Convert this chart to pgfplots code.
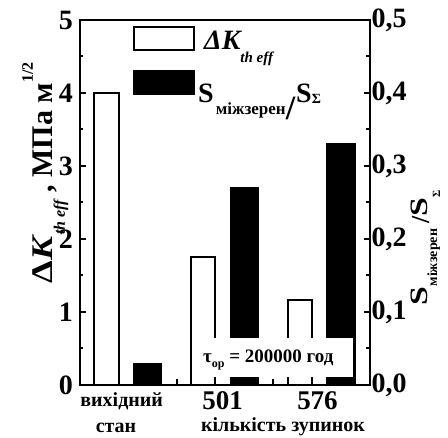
\documentclass[border=0pt]{standalone}
\usepackage{graphicx}
\usepackage{pgfplots}
\pgfplotsset{compat=1.18}
\usepackage{fontspec}
\setmainfont{Liberation Serif}
\newcommand{\fs}[1]{\fontsize{#1}{#1}\selectfont}
\begin{document}
\begin{tikzpicture}[x=1pt,y=1pt,font=\bfseries]
\useasboundingbox (-80,-53) rectangle (368,385);
\begin{axis}[
  at={(0,0)}, anchor=south west,
  scale only axis, width=290pt, height=365pt,
  xmin=-0.5, xmax=2.5, ymin=0, ymax=5,
  axis line style={line width=2.5pt},
  ytick={0,1,2,3,4,5}, minor ytick={0.5,1.5,2.5,3.5,4.5},
  ytick pos=left,
  xtick={0.5,1.5}, xticklabels={},
  xtick pos=bottom,
  tick align=inside,
  major tick length=6pt, minor tick length=3.5pt,
  every tick/.style={line width=2pt, black},
  /pgf/number format/assume math mode=true,
  yticklabel style={font=\fs{28}\bfseries, inner xsep=7pt},
]
\addplot[ybar, bar width=0.25, bar shift=-0.225, fill=white, draw=black, line width=2pt]
  coordinates {(0,4.0) (1,1.75) (2,1.16)};
\end{axis}
\begin{axis}[
  at={(0,0)}, anchor=south west,
  scale only axis, width=290pt, height=365pt,
  xmin=-0.5, xmax=2.5, ymin=0, ymax=0.5,
  axis x line=none, axis y line*=right,
  axis line style={line width=2.5pt},
  ytick={0,0.1,0.2,0.3,0.4,0.5},
  minor ytick={0.05,0.15,0.25,0.35,0.45},
  tick align=inside,
  major tick length=6pt, minor tick length=3.5pt,
  every tick/.style={line width=2pt, black},
  /pgf/number format/assume math mode=true,
  /pgf/number format/.cd, fixed, fixed zerofill, precision=1, use comma,
  /pgfplots/.cd,
  yticklabel style={font=\fs{28}\bfseries, inner xsep=1.5pt},
]
\addplot[ybar, bar width=0.29, bar shift=0.2, fill=black, draw=black, line width=1pt]
  coordinates {(0,0.030) (1,0.271) (2,0.331)};
\end{axis}
% annotation box
\fill[white] (115,8) rectangle (273,47);
\node[anchor=base west, inner sep=0pt] at (123,22)
  {\fs{19}\bfseries τ\raisebox{-5pt}{\fs{12}\bfseries ор} = 200000 год};
% category labels
\node[anchor=base, inner sep=0pt] at (41.7,-22) {\fs{20}\bfseries вихідний};
\node[anchor=base, inner sep=0pt] at (36,-48) {\fs{20}\bfseries стан};
\node[anchor=base, inner sep=0pt] at (142.7,-25) {\fs{27}\bfseries 501};
\node[anchor=base, inner sep=0pt] at (237.5,-25) {\fs{27}\bfseries 576};
\node[anchor=base, inner sep=0pt] at (203,-47) {\fs{20}\bfseries кількість зупинок};
% legend
\draw[line width=2pt, fill=white] (54,335) rectangle (114,358);
\fill[black] (53,290) rectangle (115,315);
\node[anchor=base west, inner sep=0pt] at (124,335)
  {\fs{28}\bfseries\itshape ΔK\raisebox{-13pt}{\fs{15}\bfseries\itshape th eff}};
\node[anchor=base west, inner sep=0pt] at (118,282)
  {\fs{28}\bfseries S\kern2pt\raisebox{-12pt}{\fs{17}\bfseries міжзерен}\raisebox{-17pt}{\fs{34}/}\kern1pt S\raisebox{-1pt}{\fs{14}\bfseries Σ}};
% axis labels
\node[rotate=90, anchor=base, inner sep=0pt] at (-27,212)
  {\fs{30}\bfseries \scalebox{1.2}[1]{Δ\textit{K}}\raisebox{-12pt}{\fs{16}\bfseries\itshape th eff} , МПа м\raisebox{20pt}{\fs{16}\bfseries 1/2}};
\node[rotate=90, anchor=base, inner sep=0pt] at (347,137)
  {\fs{25}\bfseries \scalebox{1.35}[1]{S}\raisebox{-10pt}{\fs{14}\bfseries міжзерен}\kern5pt\raisebox{-2pt}{\fs{26}/}\scalebox{1.35}[1]{S}\raisebox{-13pt}{\fs{11}\bfseries Σ}};
\end{tikzpicture}
\end{document}
